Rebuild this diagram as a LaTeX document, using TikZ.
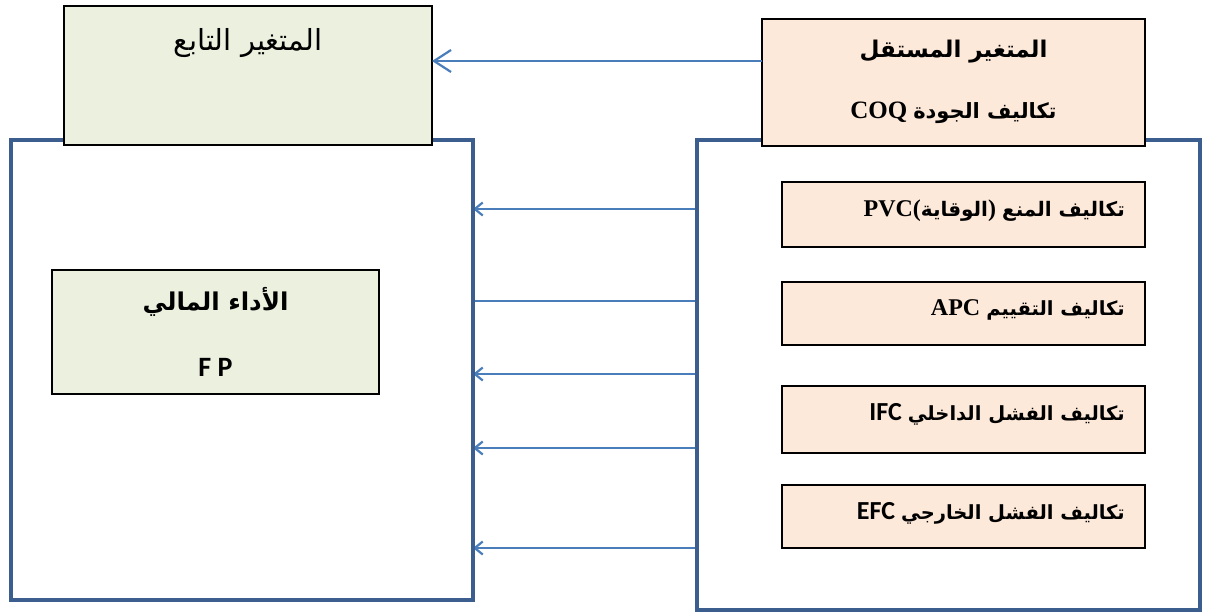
\documentclass[tikz,border=0pt]{standalone}
\usepackage{fontspec}
\setmainfont{Liberation Serif}
\newfontfamily\arabicfont[Script=Arabic]{DejaVu Sans}
\newfontfamily\calfont{Carlito}
\TeXXeTstate=1
\usetikzlibrary{arrows.meta,backgrounds}

\definecolor{frameblue}{HTML}{3B5E8F}
\definecolor{arrowblue}{HTML}{4A7EBB}
\definecolor{greenfill}{HTML}{EBF1DE}
\definecolor{peachfill}{HTML}{FDE9D9}

% font switches: bold Arabic, bold Times-like Latin, bold Calibri-like Latin
\newcommand{\arbsz}[1]{\fontsize{#1}{#1}\selectfont\arabicfont\bfseries}
\newcommand{\latsz}[1]{\fontsize{#1}{#1}\selectfont\bfseries}
\newcommand{\calsz}[1]{\fontsize{#1}{#1}\selectfont\calfont\bfseries}
\newcommand{\wordgap}{\hspace{6pt}}

\begin{document}
\begin{tikzpicture}[x=1pt,y=-1pt,
  frame/.style={draw=frameblue,line width=4.8pt,rectangle,inner sep=0pt,outer sep=0pt},
  greenbox/.style={draw=black,line width=1.3pt,fill=greenfill,rectangle,inner sep=0pt,outer sep=0pt},
  peachbox/.style={draw=black,line width=1.3pt,fill=peachfill,rectangle,inner sep=0pt,outer sep=0pt},
  titletxt/.style={inner sep=0pt},
  itemtxt/.style={inner sep=0pt,anchor=east},
  link/.style={draw=arrowblue,line width=2.2pt},
  bigtip/.style={link,-{Straight Barb[length=17pt,width=22pt,line width=2.2pt]}},
  smalltip/.style={link,-{Straight Barb[length=8pt,width=13pt,line width=2.2pt]}}
]
\useasboundingbox (0,0) rectangle (1205,613);

% the two large frames
\node[frame,minimum width=462pt,minimum height=460pt] (lframe) at (242,370) {};
\node[frame,minimum width=503pt,minimum height=470pt] (rframe) at (948.5,375) {};

% connectors between the frames, kept underneath them
\begin{pgfonlayer}{background}
  \draw[smalltip] (rframe.west |- 0,209) -- (lframe.east |- 0,209);
  \draw[link]     (rframe.west |- 0,301) -- (lframe.east |- 0,301);
  \draw[smalltip] (rframe.west |- 0,374) -- (lframe.east |- 0,374);
  \draw[smalltip] (rframe.west |- 0,448) -- (lframe.east |- 0,448);
  \draw[smalltip] (rframe.west |- 0,548) -- (lframe.east |- 0,548);
\end{pgfonlayer}

% header boxes
\node[greenbox,minimum width=368pt,minimum height=139pt] (dep) at (248,75.5) {};
\node[peachbox,minimum width=383pt,minimum height=127pt] (ind) at (953.5,82.5) {};
\node[titletxt] (depT) at (248,43) {\fontsize{29}{29}\selectfont\arabicfont\beginR المتغير التابع\endR};
\node[titletxt] (indT) at (953.5,52) {\arbsz{23}\beginR المتغير المستقل\endR};
\node[titletxt] (indS) at (953.5,113) {{\latsz{25}COQ}\wordgap{\arbsz{21}\beginR تكاليف الجودة\endR}};

\draw[bigtip] (ind.west |- 0,61) -- (dep.east |- 0,61);

% financial performance box
\node[greenbox,minimum width=327pt,minimum height=124pt] (fp) at (215.5,332) {};
\node[titletxt] (fpT) at (215.5,302) {\arbsz{24.5}\beginR الأداء المالي\endR};
\node[titletxt] (fpS) at (215.5,367) {\calsz{28}F P};

% cost categories
\node[peachbox,minimum width=363pt,minimum height=65pt] (pvc) at (963.5,214.5) {};
\node[peachbox,minimum width=363pt,minimum height=63pt] (apc) at (963.5,313.5) {};
\node[peachbox,minimum width=363pt,minimum height=67pt] (ifc) at (963.5,419.5) {};
\node[peachbox,minimum width=363pt,minimum height=63pt] (efc) at (963.5,516.5) {};

\node[itemtxt] (pvcT) at (1125,211) {{\latsz{24}PVC(}{\arbsz{20}\beginR الوقاية\endR}{\latsz{24})}\wordgap{\arbsz{20}\beginR تكاليف المنع\endR}};
\node[itemtxt] (apcT) at (1125,310) {{\latsz{24}APC}\wordgap{\arbsz{19.5}\beginR تكاليف التقييم\endR}};
\node[itemtxt] (ifcT) at (1125,414) {{\calsz{26}IFC}\wordgap{\arbsz{19.5}\beginR تكاليف الفشل الداخلي\endR}};
\node[itemtxt] (efcT) at (1125,513) {{\calsz{26}EFC}\wordgap{\arbsz{19.5}\beginR تكاليف الفشل الخارجي\endR}};
\end{tikzpicture}
\end{document}
